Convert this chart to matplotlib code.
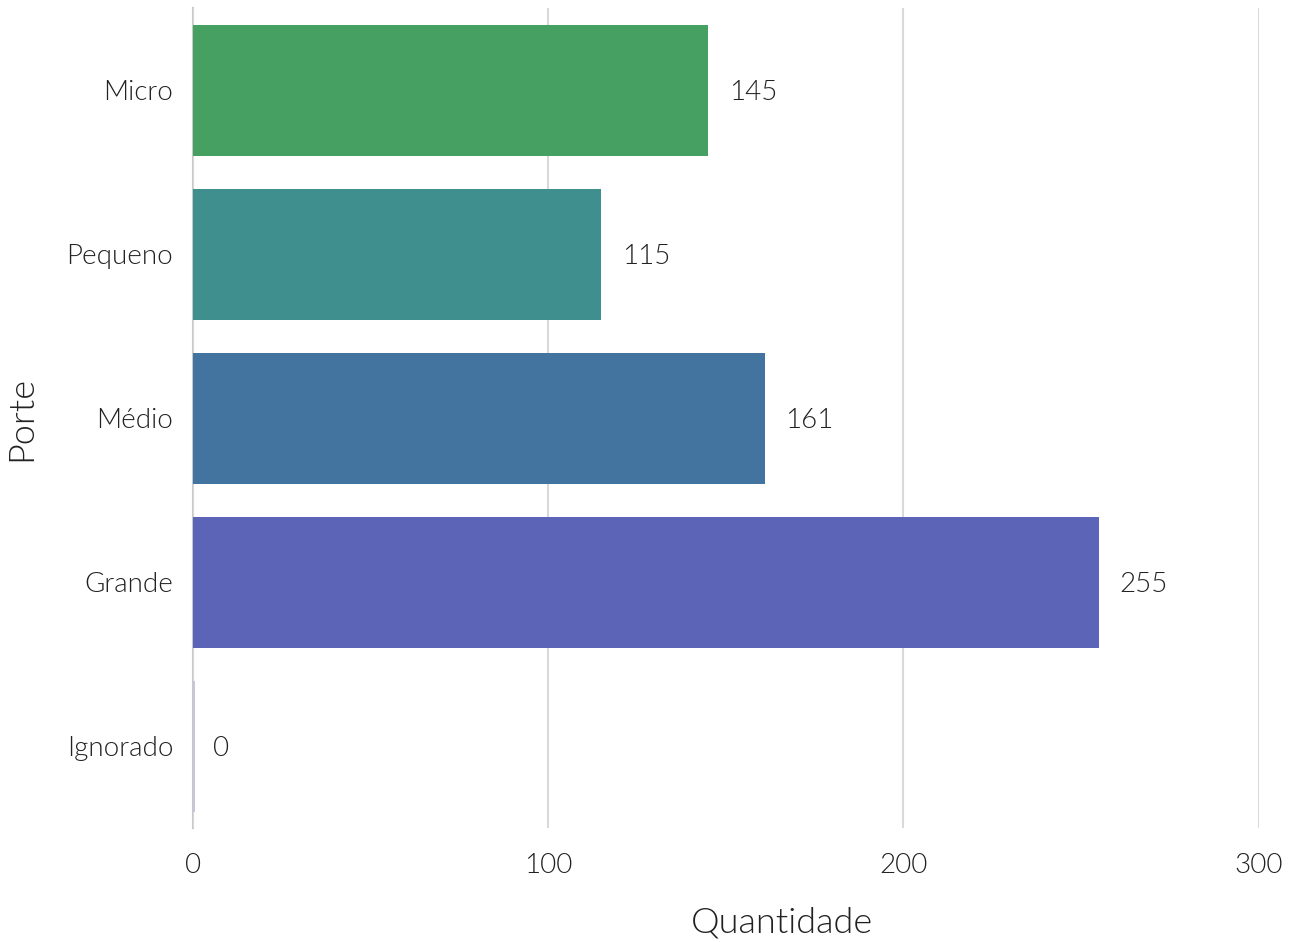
"""
Horizontal bar chart: quantidade por porte
"""
import matplotlib
matplotlib.use("Agg")
import matplotlib.pyplot as plt


categorias = ["Micro", "Pequeno", "Médio", "Grande", "Ignorado"]
quantidade = [145, 115, 161, 255, 0]
cores = ["#46a062", "#3f8f8f", "#43749f", "#5b64b7", "#c9c3dc"]
ticks_x = [0, 100, 200, 300]

plt.rcParams["font.family"] = ["Lato", "DejaVu Sans"]
plt.rcParams["font.weight"] = 300  # Lato Light

fig = plt.figure(figsize=(12.94, 9.42), dpi=100)
ax = fig.add_axes([0.149, 0.1205, 0.8238, 0.8705])

y = list(range(len(categorias)))
ax.barh(y, quantidade, height=0.8, color=cores, zorder=2)
# a zero bar still shows as a thin line
ax.barh(y[-1], 0.5, height=0.8, color=cores[-1], zorder=3)

for yi, v in zip(y, quantidade):
    ax.text(v + 5.8, yi, str(v), va="center_baseline", ha="left", fontsize=20,
            color="#222222", fontweight=300)

ax.set_yticks(y)
ax.set_yticklabels(categorias)
ax.set_xticks(ticks_x)
ax.set_xlim(0, 300)
ax.set_ylim(4.5, -0.5)

ax.grid(axis="x", color="#d9d9d9", linewidth=1.5, zorder=0)
for s in ["top", "right", "bottom"]:
    ax.spines[s].set_visible(False)
ax.spines["left"].set_color("#c8c8c8")
ax.spines["left"].set_linewidth(1.5)
ax.spines["left"].set_zorder(1)

ax.tick_params(axis="both", length=0, labelsize=20, labelcolor="#222222")
ax.tick_params(axis="y", pad=14)
ax.tick_params(axis="x", pad=18)

ax.set_xlabel("Quantidade", fontsize=26, color="#222222", labelpad=20,
              fontweight=300)
ax.set_ylabel("Porte", fontsize=26, color="#222222", labelpad=21,
              fontweight=300)
# the reference puts the x label right of the axes centre
ax.xaxis.label.set_x(0.5525)

plt.savefig("out.png", dpi=100)
